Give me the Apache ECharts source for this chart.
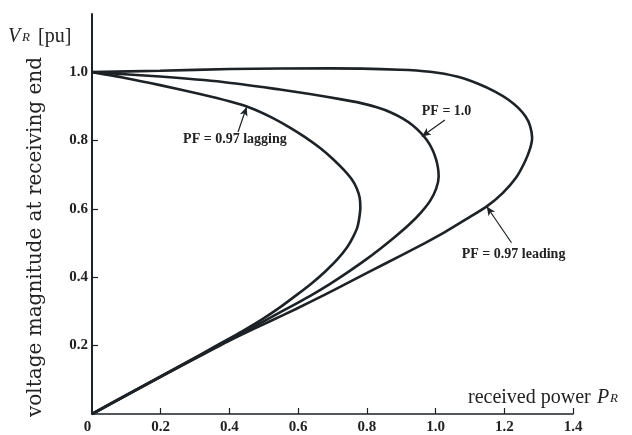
<!DOCTYPE html>
<html>
<head>
<meta charset="utf-8">
<script src="https://cdn.jsdelivr.net/npm/echarts@6/dist/echarts.min.js"></script>
<style>html,body{margin:0;padding:0;background:#fff}#c{width:632px;height:435px}</style>
</head>
<body>
<div id="c"></div>
<script>
// ---- data (P = received power, V = receiving-end voltage, pu)
const lagP = [0, 0.096, 0.198, 0.314, 0.402, 0.460, 0.518, 0.576, 0.620, 0.664, 0.701, 0.733, 0.757, 0.771, 0.779, 0.781, 0.778, 0.772, 0.759, 0.742, 0.714, 0.679, 0.639, 0.594, 0.547, 0.495, 0.437, 0.375, 0.313, 0.198, 0.096, 0];
const lagV = [1.0, 0.983, 0.962, 0.936, 0.914, 0.896, 0.870, 0.838, 0.810, 0.778, 0.746, 0.714, 0.685, 0.659, 0.633, 0.603, 0.574, 0.545, 0.516, 0.487, 0.452, 0.417, 0.382, 0.347, 0.312, 0.277, 0.242, 0.207, 0.172, 0.109, 0.054, 0];

const unityP = [0, 0.198, 0.381, 0.547, 0.634, 0.722, 0.780, 0.829, 0.870, 0.905, 0.934, 0.957, 0.976, 0.991, 1.001, 1.007, 1.009, 1.002, 0.985, 0.958, 0.924, 0.884, 0.841, 0.795, 0.745, 0.692, 0.634, 0.547, 0.431, 0.314, 0.198, 0.096, 0];
const unityV = [1.0, 0.987, 0.971, 0.949, 0.936, 0.921, 0.910, 0.897, 0.882, 0.864, 0.844, 0.822, 0.799, 0.773, 0.746, 0.720, 0.695, 0.660, 0.625, 0.590, 0.555, 0.520, 0.485, 0.450, 0.415, 0.380, 0.345, 0.297, 0.233, 0.171, 0.108, 0.052, 0];

const leadP = [0, 0.198, 0.402, 0.693, 0.896, 0.984, 1.062, 1.129, 1.173, 1.211, 1.240, 1.262, 1.275, 1.281, 1.275, 1.260, 1.234, 1.196, 1.150, 1.088, 1.027, 0.969, 0.896, 0.809, 0.722, 0.634, 0.556, 0.477, 0.399, 0.300, 0.198, 0.096, 0];
const leadV = [1.0, 1.004, 1.009, 1.011, 1.007, 1.001, 0.987, 0.964, 0.943, 0.920, 0.896, 0.870, 0.843, 0.808, 0.776, 0.738, 0.691, 0.647, 0.608, 0.569, 0.532, 0.500, 0.462, 0.417, 0.372, 0.327, 0.289, 0.252, 0.214, 0.162, 0.108, 0.052, 0];

const xTicks = [0.2, 0.4, 0.6, 0.8, 1.0, 1.2, 1.4];
const xLabels = [0, 0.2, 0.4, 0.6, 0.8, 1.0, 1.2, 1.4];
const yTicks = [0.2, 0.4, 0.6, 0.8, 1.0];

// annotations: text anchor, arrow tail, arrow head (data coords)
const annTexts = ['PF = 0.97 lagging', 'PF = 1.0', 'PF = 0.97 leading'];
const annTextPos = [[0.416, 0.802], [1.032, 0.884], [1.227, 0.466]];
const annTail = [[0.425, 0.825], [1.027, 0.860], [1.221, 0.501]];
const annHead = [[0.450, 0.898], [0.960, 0.812], [1.149, 0.607]];

const zip = (a, b) => a.map((v, i) => [v, b[i]]);
const INK = '#1d2227';
const SERIF = '"Liberation Serif", "DejaVu Serif", serif';

const chart = echarts.init(document.getElementById('c'), null, {renderer: 'canvas'});

function curve(name, p, v, idx) {
  return {
    name, type: 'line', data: zip(p, v), smooth: 0.25, showSymbol: false, symbol: 'none',
    lineStyle: {color: INK, width: 2.6}, z: 3, animation: false,
    markLine: {
      silent: true, animation: false, symbol: ['none', 'arrow'], symbolSize: [6, 9],
      lineStyle: {color: INK, width: 1.2, type: 'solid'}, label: {show: false},
      data: [[{coord: annTail[idx]}, {coord: annHead[idx]}]]
    }
  };
}

chart.setOption({
  animation: false,
  backgroundColor: '#fff',
  grid: {left: 92, right: 59, top: 14, bottom: 20, containLabel: false},
  xAxis: {
    type: 'value', min: 0, max: 1.4,
    axisLine: {show: true, onZero: false, lineStyle: {color: INK, width: 1.6}},
    axisTick: {show: true, inside: true, length: 6, customValues: xTicks, lineStyle: {color: INK, width: 1.2}},
    axisLabel: {
      customValues: xLabels, margin: 6, color: '#222', fontFamily: SERIF, fontWeight: 'bold', fontSize: 15,
      formatter: v => v === 0 ? '{z|0}' : v.toFixed(1),
      rich: {z: {fontFamily: SERIF, fontWeight: 'bold', fontSize: 15, color: '#222', padding: [0, 9, 0, 0]}}
    },
    splitLine: {show: false}
  },
  yAxis: {
    type: 'value', min: 0, max: 1.17,
    axisLine: {show: true, onZero: false, lineStyle: {color: INK, width: 2}},
    axisTick: {show: true, inside: true, length: 6, customValues: yTicks, lineStyle: {color: INK, width: 1.2}},
    axisLabel: {customValues: yTicks, margin: 4, color: '#222', fontFamily: SERIF, fontWeight: 'bold', fontSize: 15,
      formatter: v => v.toFixed(1)},
    splitLine: {show: false}
  },
  series: [
    curve('PF = 0.97 lagging', lagP, lagV, 0),
    curve('PF = 1.0', unityP, unityV, 1),
    curve('PF = 0.97 leading', leadP, leadV, 2)
  ]
});

const g = [];
annTexts.forEach((t, i) => {
  const [x, y] = chart.convertToPixel({gridIndex: 0}, annTextPos[i]);
  g.push({type: 'text', x, y, z: 10, style: {text: t, fill: '#222', font: 'bold 14px ' + SERIF, align: 'center', verticalAlign: 'middle'}});
});
// axis names
g.push({type: 'text', x: 8, y: 27, style: {text: 'V', fill: '#222', font: 'italic 20px ' + SERIF, align: 'left', verticalAlign: 'alphabetic'}});
g.push({type: 'text', x: 22, y: 31, style: {text: 'R', fill: '#222', font: 'italic 13px ' + SERIF, align: 'left', verticalAlign: 'alphabetic'}});
g.push({type: 'text', x: 38, y: 27, style: {text: '[pu]', fill: '#222', font: '20px ' + SERIF, align: 'left', verticalAlign: 'alphabetic'}});
g.push({type: 'text', x: 36, y: 237, rotation: Math.PI / 2, style: {text: 'voltage magnitude at receiving end', fill: '#222', font: '20px "DejaVu Serif", serif', align: 'center', verticalAlign: 'middle'}});
g.push({type: 'text', x: 468, y: 388, style: {text: 'received power', fill: '#222', font: '20px ' + SERIF, align: 'left', verticalAlign: 'alphabetic'}});
g.push({type: 'text', x: 597, y: 388, style: {text: 'P', fill: '#222', font: 'italic 20px ' + SERIF, align: 'left', verticalAlign: 'alphabetic'}});
g.push({type: 'text', x: 610, y: 392, style: {text: 'R', fill: '#222', font: 'italic 13px ' + SERIF, align: 'left', verticalAlign: 'alphabetic'}});
chart.setOption({graphic: g});
</script>
</body>
</html>
